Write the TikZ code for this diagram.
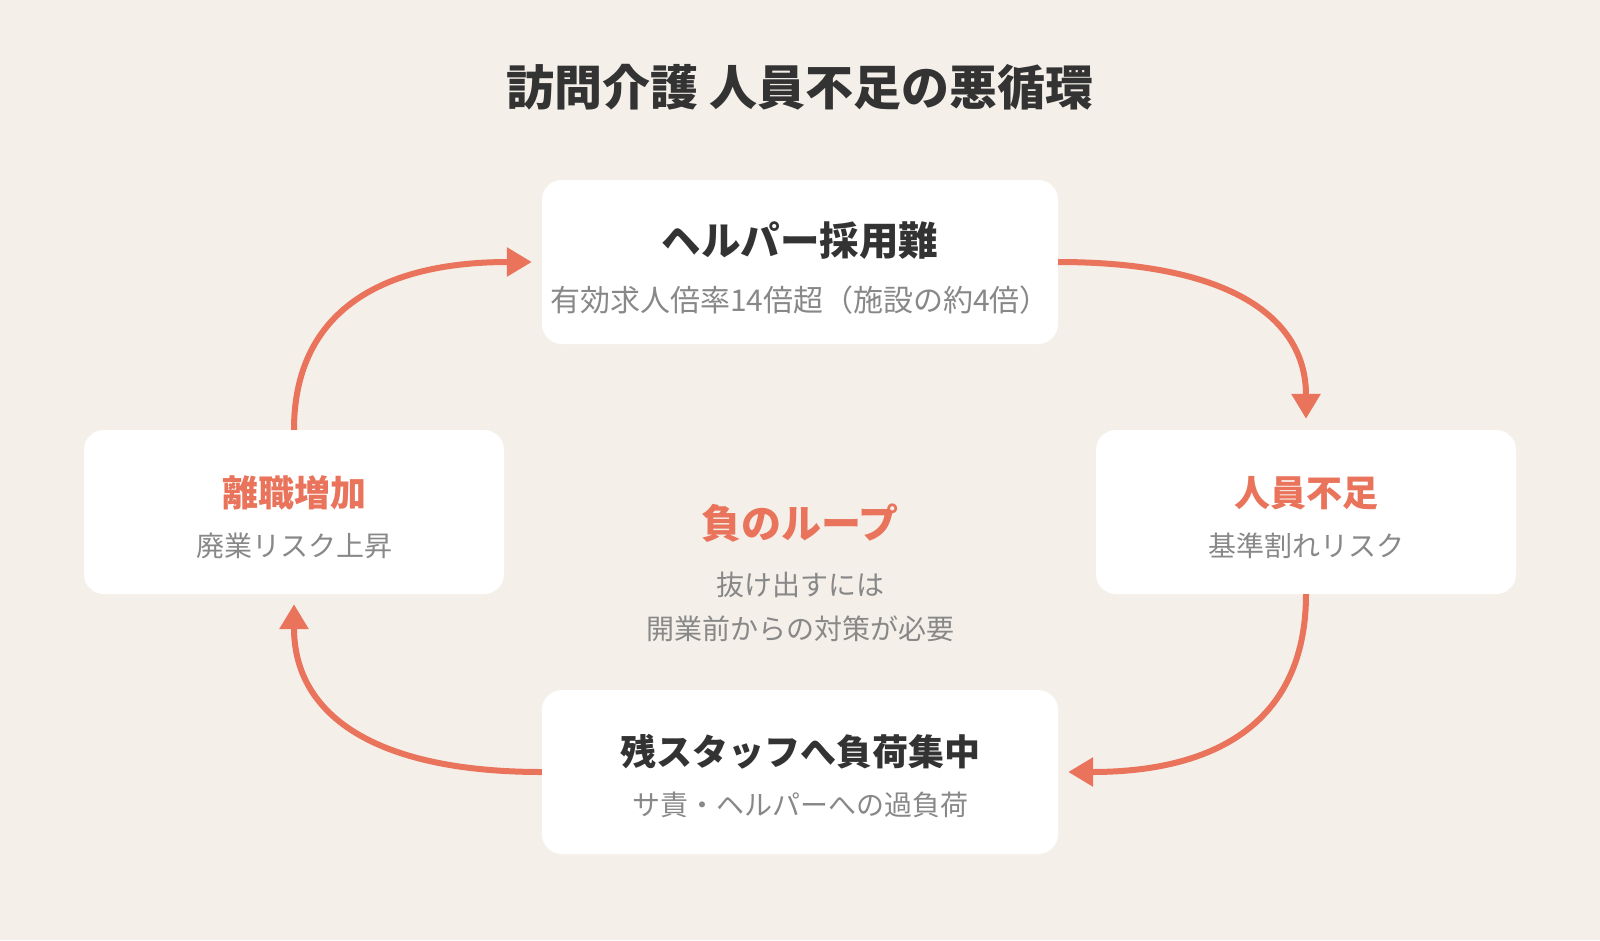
\documentclass[tikz,border=0pt]{standalone}
\usepackage{fontspec}
\setmainfont{Noto Sans CJK JP}
\usetikzlibrary{arrows.meta}
\definecolor{bgc}{HTML}{F4EFE9}
\definecolor{accent}{HTML}{E9735B}
\definecolor{darktext}{HTML}{333333}
\definecolor{graytext}{HTML}{888888}
\begin{document}
\begin{tikzpicture}[x=1pt,y=-1pt,
  card/.style={fill=white, rounded corners=20pt, minimum width=516pt, minimum height=164pt, inner sep=0pt},
  smallcard/.style={card, minimum width=420pt},
  titletext/.style={font=\fontsize{48}{52}\selectfont\bfseries, text=darktext, inner sep=0pt},
  head/.style={font=\fontsize{36}{40}\selectfont\bfseries, text=darktext, inner sep=0pt},
  bighead/.style={head, font=\fontsize{39.5}{44}\selectfont\bfseries},
  accenthead/.style={head, text=accent},
  sub/.style={font=\fontsize{28}{32}\selectfont, text=graytext, inner sep=0pt},
  bigsub/.style={sub, font=\fontsize{30}{34}\selectfont},
  flow/.style={draw=accent, line width=6pt, -{Triangle[width=28pt,length=25pt]}}]
\fill[bgc] (0,0) rectangle (1600,940);
\useasboundingbox (0,0) rectangle (1600,940);

\node[titletext] (title) at (800,87) {訪問介護 人員不足の悪循環};

\node[card] (top) at (800,262) {};
\node[smallcard] (left) at (294,512) {};
\node[smallcard] (right) at (1306,512) {};
\node[card] (bottom) at (800,772) {};

\node[bighead] (topT) at ([yshift=21pt]top.center) {ヘルパー採用難};
\node[bigsub] (topS) at ([yshift=-38pt]top.center) {有効求人倍率14倍超（施設の約4倍）};

\node[accenthead] (rightT) at ([yshift=19pt]right.center) {人員不足};
\node[sub] (rightS) at ([yshift=-34pt]right.center) {基準割れリスク};

\node[accenthead] (leftT) at ([yshift=19pt]left.center) {離職増加};
\node[sub] (leftS) at ([yshift=-34pt]left.center) {廃業リスク上昇};

\node[head] (bottomT) at ([yshift=20pt]bottom.center) {残スタッフへ負荷集中};
\node[sub] (bottomS) at ([yshift=-33pt]bottom.center) {サ責・ヘルパーへの過負荷};

\node[font=\fontsize{40}{44}\selectfont\bfseries, text=accent, inner sep=0pt] (loop) at (800,523) {負のループ};
\node[sub] (esc1) at (800,585) {抜け出すには};
\node[sub] (esc2) at (800,629) {開業前からの対策が必要};

\draw[flow] (top.east) .. controls +(165,0) and +(0,-105) .. ([yshift=11pt]right.north);
\draw[flow] (right.south) .. controls +(0,119) and +(159,0) .. ([xshift=10pt]bottom.east);
\draw[flow] (bottom.west) .. controls +(-165,0) and +(0,112) .. ([yshift=-10pt]left.south);
\draw[flow] (left.north) .. controls +(0,-112) and +(-159,0) .. ([xshift=-10pt]top.west);
\end{tikzpicture}
\end{document}
